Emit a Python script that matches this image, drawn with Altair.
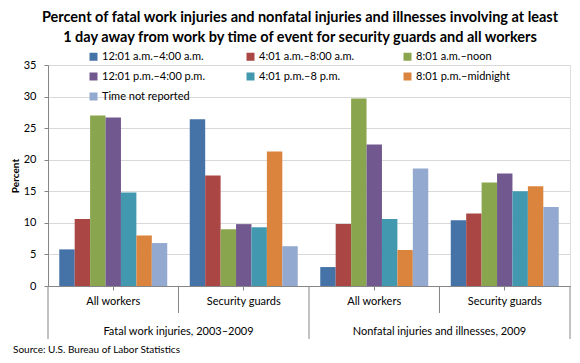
import altair as alt
import pandas as pd

# ---- data ----
series = ["12:01 a.m.–4:00 a.m.", "4:01 a.m.–8:00 a.m.", "8:01 a.m.–noon",
          "12:01 p.m.–4:00 p.m.", "4:01 p.m.–8 p.m.", "8:01 p.m.–midnight",
          "Time not reported"]
colors = ["#4572A7", "#AA4643", "#89A54E", "#71588F", "#4198AF", "#DB843D", "#93A9CF"]
outer_groups = ["Fatal work injuries, 2003–2009", "Nonfatal injuries and illnesses, 2009"]
inner_groups = ["All workers", "Security guards"]

# values per group: [Fatal-All, Fatal-Guards, Nonfatal-All, Nonfatal-Guards]
v_0001_0400 = [5.8, 26.4, 3.0, 10.4]
v_0401_0800 = [10.6, 17.5, 9.8, 11.5]
v_0801_noon = [27.0, 9.0, 29.7, 16.4]
v_1201_1600 = [26.7, 9.8, 22.4, 17.8]
v_1601_2000 = [14.8, 9.3, 10.6, 15.0]
v_2001_2400 = [8.0, 21.3, 5.7, 15.8]
v_not_rep = [6.8, 6.3, 18.6, 12.5]
all_values = [v_0001_0400, v_0401_0800, v_0801_noon, v_1201_1600,
              v_1601_2000, v_2001_2400, v_not_rep]

y_ticks = [0, 5, 10, 15, 20, 25, 30, 35]

title_lines = ["Percent of fatal work injuries and nonfatal injuries and illnesses involving  at least",
               "1 day away from work by time of event for security guards and all workers"]
source_text = "Source: U.S. Bureau of Labor Statistics"

# ---- tables ----
keys = [f"{o}|{i}" for o in outer_groups for i in inner_groups]
rows = []
for s, vals in zip(series, all_values):
    for k, v in zip(keys, vals):
        rows.append({"key": k, "series": s, "value": v})
df = pd.DataFrame(rows)

long_div = pd.DataFrame({"key": [keys[0], keys[2]]})
end_div = pd.DataFrame({"key": [keys[3]]})
short_div = pd.DataFrame({"key": [keys[1], keys[3]]})
outer_df = pd.DataFrame({"key": [keys[1], keys[3]], "label": outer_groups})
src_df = pd.DataFrame({"label": [source_text]})

FONT = "Lato"
AX = "#868686"
W, H = 522, 221

xscale = alt.Scale(domain=keys, paddingInner=0, paddingOuter=0)
xaxis = alt.Axis(labelExpr="split(datum.label, '|')[1]", labelAngle=0,
                 labelFont=FONT, labelFontSize=11, labelColor="#000000",
                 labelPadding=5, tickSize=4, tickColor=AX,
                 domainColor=AX, domainWidth=1, grid=False, title=None)

bars = alt.Chart(df).mark_bar(stroke=None).encode(
    x=alt.X("key:N", scale=xscale, title=None, axis=xaxis),
    xOffset=alt.XOffset("series:N", sort=series,
                        scale=alt.Scale(domain=series, paddingOuter=0.73, paddingInner=0)),
    y=alt.Y("value:Q", scale=alt.Scale(domain=[0, 35], nice=False),
            axis=alt.Axis(values=y_ticks, title="Percent", titleFont=FONT,
                          titleFontSize=10, titleFontWeight="bold", titleColor="#000000",
                          titlePadding=3, labelFont=FONT, labelFontSize=11,
                          labelColor="#000000", labelPadding=8, tickSize=4,
                          tickColor=AX, domainColor=AX, gridColor="#d9d9d9",
                          grid=True)),
    color=alt.Color("series:N", sort=series,
                    scale=alt.Scale(domain=series, range=colors),
                    legend=alt.Legend(orient="none", legendX=40, legendY=-14,
                                      columns=3, direction="horizontal", title=None,
                                      symbolType="square",
                                      symbolSize=64, symbolStrokeWidth=0,
                                      labelFont=FONT, labelFontSize=11,
                                      labelColor="#000000", gridAlign="all",
                                      columnPadding=40, rowPadding=8, padding=0,
                                      labelOffset=3)),
)

rule_long = alt.Chart(long_div).mark_rule(color=AX, strokeWidth=1).encode(
    x=alt.X("key:N", bandPosition=0, title=None),
    y=alt.value(H), y2=alt.value(H + 53))
rule_end = alt.Chart(end_div).mark_rule(color=AX, strokeWidth=1).encode(
    x=alt.X("key:N", bandPosition=1, title=None),
    y=alt.value(H), y2=alt.value(H + 53))
rule_short = alt.Chart(short_div).mark_rule(color=AX, strokeWidth=1).encode(
    x=alt.X("key:N", bandPosition=0, title=None),
    y=alt.value(H), y2=alt.value(H + 27))

outer_text = alt.Chart(outer_df).mark_text(font=FONT, fontSize=11, color="#000000",
                                           baseline="middle", align="center").encode(
    x=alt.X("key:N", bandPosition=0, title=None),
    y=alt.value(H + 46), text="label:N")

src = alt.Chart(src_df).mark_text(font=FONT, fontSize=10, color="#000000",
                                  baseline="middle", align="left").encode(
    x=alt.value(-35), y=alt.value(H + 64), text="label:N")

chart = alt.layer(bars, rule_long, rule_end, rule_short, outer_text, src).properties(
    width=W, height=H,
    autosize=alt.AutoSizeParams(type="none"),
    padding={"left": 40, "top": 57, "right": 2, "bottom": 68},
    title=alt.TitleParams(text=title_lines, font=FONT, fontSize=14.5, fontWeight="bold",
                          color="#000000", anchor="middle", dx=-9, offset=6,
                          lineHeight=20),
).configure_view(stroke=None).configure(background="white")

chart.save("out.html", embed_options={"renderer": "svg", "actions": False})
